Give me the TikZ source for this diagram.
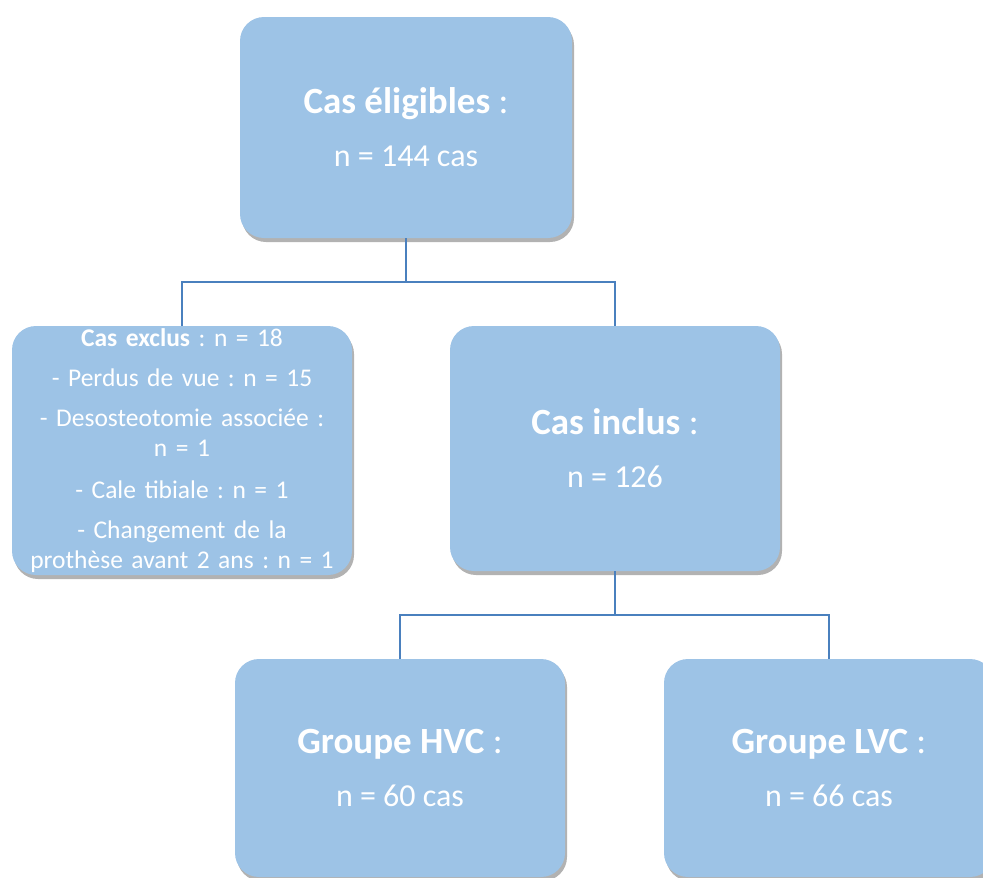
\documentclass[tikz,border=0pt]{standalone}
\usepackage{fontspec}
\setmainfont{Carlito}
\frenchspacing
\usetikzlibrary{shadows}
\definecolor{boxblue}{HTML}{9DC3E6}
\definecolor{lineblue}{HTML}{4A80BE}
\begin{document}
\begin{tikzpicture}[
    x=1pt, y=-1pt,
    every node/.style = {shape=rectangle, rounded corners=24pt, fill=boxblue,
        text=white, align=center, inner sep=0pt,
        drop shadow={shadow xshift=2pt, shadow yshift=-4pt, fill=black!55, opacity=.55}},
    box/.style = {minimum width=330pt, minimum height=218pt, font=\fontsize{32}{38}\selectfont},
    big/.style = {font=\fontsize{37}{44}\selectfont\bfseries},
    link/.style = {draw=lineblue, line width=2.6pt}
    ]
    \useasboundingbox (0,0) rectangle (983,878);
    \node[box, minimum width=332pt, minimum height=221pt] (elig) at (406,127.5)
        {{\fontsize{37}{44}\selectfont\textbf{Cas éligibles} :}\\[15pt] n = 144 cas};
    \node[minimum width=340pt, minimum height=249pt, text width=336pt,
          font=\fontsize{25.5}{30}\selectfont] (excl) at (182,450.5)
        {\textbf{Cas exclus} : n = 18\\[10pt]
         - Perdus de vue : n = 15\\[10pt]
         - Desosteotomie associée :\\ n = 1\\[12pt]
         - Cale tibiale : n = 1\\[10pt]
         - Changement de la\\ prothèse avant 2 ans : n = 1};
    \node[box, minimum height=245pt] (incl) at (615,448.5)
        {{\fontsize{37}{44}\selectfont\textbf{Cas inclus} :}\\[15pt] n = 126};
    \node[box] (hvc) at (400,768)
        {{\fontsize{37}{44}\selectfont\textbf{Groupe HVC} :}\\[15pt] n = 60 cas};
    \node[box] (lvc) at (829,768)
        {{\fontsize{37}{44}\selectfont\textbf{Groupe LVC} :}\\[15pt] n = 66 cas};
    \coordinate (j1) at (406,282);
    \coordinate (j2) at (615,615);
    \draw[link] (elig.south) -- (j1);
    \draw[link] (j1) -| (excl.north);
    \draw[link] (j1) -| (incl.north);
    \draw[link] (incl.south) -- (j2);
    \draw[link] (j2) -| (hvc.north);
    \draw[link] (j2) -| (lvc.north);
\end{tikzpicture}
\end{document}
